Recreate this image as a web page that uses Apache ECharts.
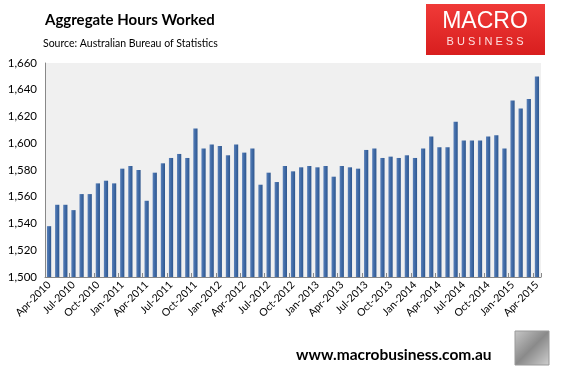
<!DOCTYPE html>
<html>
<head>
<meta charset="utf-8">
<script src="https://cdn.jsdelivr.net/npm/echarts@6/dist/echarts.min.js"></script>
<style>
html,body{margin:0;padding:0;background:#fff;}
#chart{width:563px;height:367px;}
</style>
</head>
<body>
<div id="chart"></div>
<script>
var months = ['Jan','Feb','Mar','Apr','May','Jun','Jul','Aug','Sep','Oct','Nov','Dec'];
var categories = [];
for (var y = 2010; y <= 2015; y++) {
  for (var m = 0; m < 12; m++) {
    if (y === 2010 && m < 3) continue;
    if (y === 2015 && m > 3) continue;
    categories.push(months[m] + '-' + y);
  }
}
var hoursWorked = [
  1538, 1554, 1554, 1550, 1562, 1562, 1570, 1572, 1570, 1581,
  1583, 1580, 1557, 1578, 1585, 1589, 1592, 1589, 1611, 1596,
  1599, 1598, 1591, 1599, 1593, 1596, 1569, 1578, 1571, 1583,
  1579, 1582, 1583, 1582, 1583, 1575, 1583, 1582, 1581, 1595,
  1596, 1589, 1590, 1589, 1591, 1589, 1596, 1605, 1597, 1597,
  1616, 1602, 1602, 1602, 1605, 1606, 1596, 1632, 1626, 1633,
  1650
];
var yMin = 1500, yMax = 1660, yStep = 20;

var chart = echarts.init(document.getElementById('chart'), null, {renderer: 'canvas'});
var font = 'Lato, "Open Sans", sans-serif';
chart.setOption({
  animation: false,
  backgroundColor: '#ffffff',
  title: [
    {text: 'Aggregate Hours Worked', left: 40, top: 8,
     textStyle: {fontFamily: font, fontSize: 15, fontWeight: 'bold', color: '#000'}},
    {text: 'Source: Australian Bureau of Statistics', left: 38, top: 33,
     textStyle: {fontFamily: font, fontSize: 10.5, fontWeight: 'normal', color: '#000'}}
  ],
  graphic: [
    {type: 'rect', shape: {x: 426, y: 4, width: 119, height: 51},
     style: {fill: new echarts.graphic.LinearGradient(0, 0, 0, 1, [
       {offset: 0, color: '#f03a38'}, {offset: 1, color: '#d81e1e'}])}},
    {type: 'text', x: 485, y: 10, style: {text: 'MACRO', fill: '#fff', fontFamily: '"Liberation Sans", Arial, sans-serif', fontSize: 23, align: 'center'}},
    {type: 'text', x: 485, y: 36, style: {text: 'B U S I N E S S', fill: '#fde0e0', fontFamily: '"Liberation Sans", Arial, sans-serif', fontSize: 11, align: 'center'}},
    {type: 'text', x: 296, y: 347, style: {text: 'www.macrobusiness.com.au', fill: '#000', fontFamily: font, fontSize: 15.5, fontWeight: 'bold'}},
    {type: 'rect', shape: {x: 515, y: 331, width: 34, height: 34},
     style: {fill: new echarts.graphic.LinearGradient(0, 0, 1, 1, [
       {offset: 0, color: '#c8c8c8'}, {offset: 0.5, color: '#8a8a8a'}, {offset: 1, color: '#d0d0d0'}]), stroke: '#999', lineWidth: 1}}
  ],
  grid: {left: 45, right: 22, top: 63, bottom: 90, show: true, backgroundColor: '#f0f0f0', borderWidth: 0},
  xAxis: {
    type: 'category',
    data: categories,
    axisLine: {lineStyle: {color: '#888', width: 1}},
    axisTick: {show: true, interval: 2, inside: true, length: 4, lineStyle: {color: '#888'}},
    axisLabel: {interval: 2, rotate: 45, fontFamily: font, fontSize: 10.5, color: '#000', margin: 6}
  },
  yAxis: {
    type: 'value',
    min: yMin, max: yMax, interval: yStep,
    splitLine: {show: false},
    axisLine: {show: true, lineStyle: {color: '#888', width: 1}},
    axisTick: {show: false},
    axisLabel: {fontFamily: font, fontSize: 11.5, color: '#000', margin: 8,
      formatter: function (v) { return v.toLocaleString('en-US'); }}
  },
  series: [{
    type: 'bar',
    data: hoursWorked,
    barWidth: '52%',
    itemStyle: {color: new echarts.graphic.LinearGradient(0, 0, 1, 0, [
      {offset: 0, color: '#5a80b8'}, {offset: 0.5, color: '#3f6aa6'}, {offset: 1, color: '#2f568c'}])}
  }]
});
</script>
</body>
</html>
